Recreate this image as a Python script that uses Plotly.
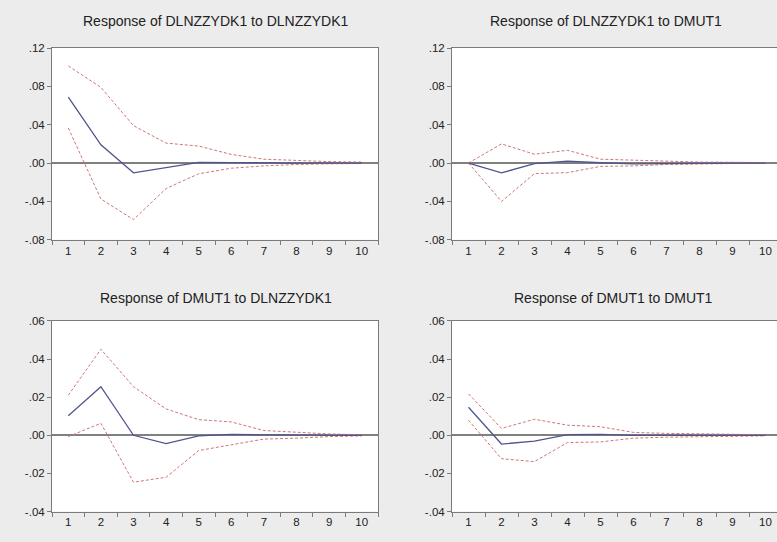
import plotly.graph_objects as go

periods = [1, 2, 3, 4, 5, 6, 7, 8, 9, 10]

titles = [
    "Response of DLNZZYDK1 to DLNZZYDK1",
    "Response of DLNZZYDK1 to DMUT1",
    "Response of DMUT1 to DLNZZYDK1",
    "Response of DMUT1 to DMUT1",
]

# Panel 1: DLNZZYDK1 -> DLNZZYDK1
resp_11 = [0.0689, 0.0190, -0.0102, -0.0044, 0.0008, 0.0005, 0.0, 0.0, 0.0, 0.0]
upper_11 = [0.1013, 0.0790, 0.0390, 0.0208, 0.0177, 0.0090, 0.0040, 0.0025, 0.0015, 0.0010]
lower_11 = [0.0365, -0.0375, -0.0590, -0.0266, -0.0112, -0.0054, -0.0030, -0.0015, -0.0008, -0.0005]

# Panel 2: DLNZZYDK1 -> DMUT1
resp_12 = [0.0, -0.0102, -0.0007, 0.0020, 0.0003, -0.0008, -0.0005, 0.0, 0.0, 0.0]
upper_12 = [0.0, 0.0200, 0.0092, 0.0133, 0.0040, 0.0030, 0.0020, 0.0010, 0.0008, 0.0005]
lower_12 = [0.0, -0.0400, -0.0110, -0.0100, -0.0035, -0.0030, -0.0015, -0.0010, -0.0005, 0.0]

# Panel 3: DMUT1 -> DLNZZYDK1
resp_21 = [0.0103, 0.0255, 0.0, -0.0044, -0.0003, 0.0005, 0.0002, 0.0, 0.0, 0.0]
upper_21 = [0.0210, 0.0451, 0.0255, 0.0138, 0.0082, 0.0070, 0.0025, 0.0015, 0.0007, 0.0003]
lower_21 = [-0.0007, 0.0063, -0.0246, -0.0220, -0.0080, -0.0050, -0.0020, -0.0015, -0.0007, -0.0003]

# Panel 4: DMUT1 -> DMUT1
resp_22 = [0.0147, -0.0046, -0.0031, 0.0003, 0.0005, 0.0, 0.0, 0.0, 0.0, 0.0]
upper_22 = [0.0217, 0.0036, 0.0084, 0.0053, 0.0045, 0.0015, 0.0010, 0.0007, 0.0004, 0.0003]
lower_22 = [0.0079, -0.0123, -0.0138, -0.0038, -0.0035, -0.0015, -0.0010, -0.0007, -0.0004, -0.0003]

top_ticks = [-0.08, -0.04, 0.0, 0.04, 0.08, 0.12]
top_ticktext = ["-.08", "-.04", ".00", ".04", ".08", ".12"]
bot_ticks = [-0.04, -0.02, 0.0, 0.02, 0.04, 0.06]
bot_ticktext = ["-.04", "-.02", ".00", ".02", ".04", ".06"]

panels = [
    (resp_11, upper_11, lower_11, top_ticks, top_ticktext),
    (resp_12, upper_12, lower_12, top_ticks, top_ticktext),
    (resp_21, upper_21, lower_21, bot_ticks, bot_ticktext),
    (resp_22, upper_22, lower_22, bot_ticks, bot_ticktext),
]

W, H = 777, 542
# pixel boxes (left, right, top, bottom)
boxes = [
    (52, 378, 43, 239),
    (452, 777, 43, 239),
    (52, 378, 322, 517),
    (452, 777, 322, 517),
]
title_pos = [(216, 15), (606, 15), (216, 299), (613, 299)]

AX = "#7a7a7a"
BLUE = "#50558f"
RED = "#cf7676"

fig = go.Figure()
layout = dict(
    width=W, height=H,
    margin=dict(l=0, r=0, t=0, b=0),
    paper_bgcolor="#ececec",
    plot_bgcolor="#ffffff",
    showlegend=False,
    font=dict(family="Liberation Sans, Arial, sans-serif", color="#222222"),
    annotations=[],
)

for i, (resp, up, lo, tv, tt) in enumerate(panels):
    n = i + 1
    xa = "x" if n == 1 else f"x{n}"
    ya = "y" if n == 1 else f"y{n}"
    for series, color, dash, wdt in [(up, RED, "3px,2px", 1), (lo, RED, "3px,2px", 1), (resp, BLUE, "solid", 1.3)]:
        fig.add_trace(go.Scatter(x=periods, y=series, mode="lines", xaxis=xa, yaxis=ya,
                                 line=dict(color=color, width=wdt, dash=dash), hoverinfo="skip"))
    l, r, t, b = boxes[i]
    right_panel = (i % 2 == 1)
    xmax = 10.5 if not right_panel else 10.5 - (782 - 777) / 33.0
    layout["xaxis" if n == 1 else f"xaxis{n}"] = dict(
        domain=[l / W, r / W], range=[0.5, xmax], anchor=ya,
        tickvals=periods, ticktext=[str(p) for p in periods], ticks="", ticklen=0,
        showline=True, linecolor=AX, linewidth=1, mirror=True,
        showgrid=False, zeroline=False,
        tickfont=dict(size=11.5, color="#222222"),
        minor=dict(tick0=0.5, dtick=1, ticks="outside", ticklen=4, tickcolor=AX, tickwidth=1, showgrid=False),
        fixedrange=True,
    )
    layout["yaxis" if n == 1 else f"yaxis{n}"] = dict(
        domain=[1 - b / H, 1 - t / H], range=[tv[0], tv[-1]], anchor=xa,
        tickvals=tv, ticktext=tt, ticks="outside", ticklen=4, tickcolor=AX,
        showline=True, linecolor=AX, linewidth=1, mirror=not right_panel,
        showgrid=False, zeroline=True, zerolinecolor="#808080", zerolinewidth=1.5,
        tickfont=dict(size=11.5, color="#222222"),
        fixedrange=True,
    )
    tx, ty = title_pos[i]
    layout["annotations"].append(dict(
        text=titles[i], x=tx / W, y=1 - ty / H, xref="paper", yref="paper",
        showarrow=False, xanchor="center", yanchor="middle",
        font=dict(size=14, color="#222222"),
    ))

fig.update_layout(**layout)
fig.write_html("out.html", config={"displayModeBar": False},
               post_script="document.body.style.margin='0';")
